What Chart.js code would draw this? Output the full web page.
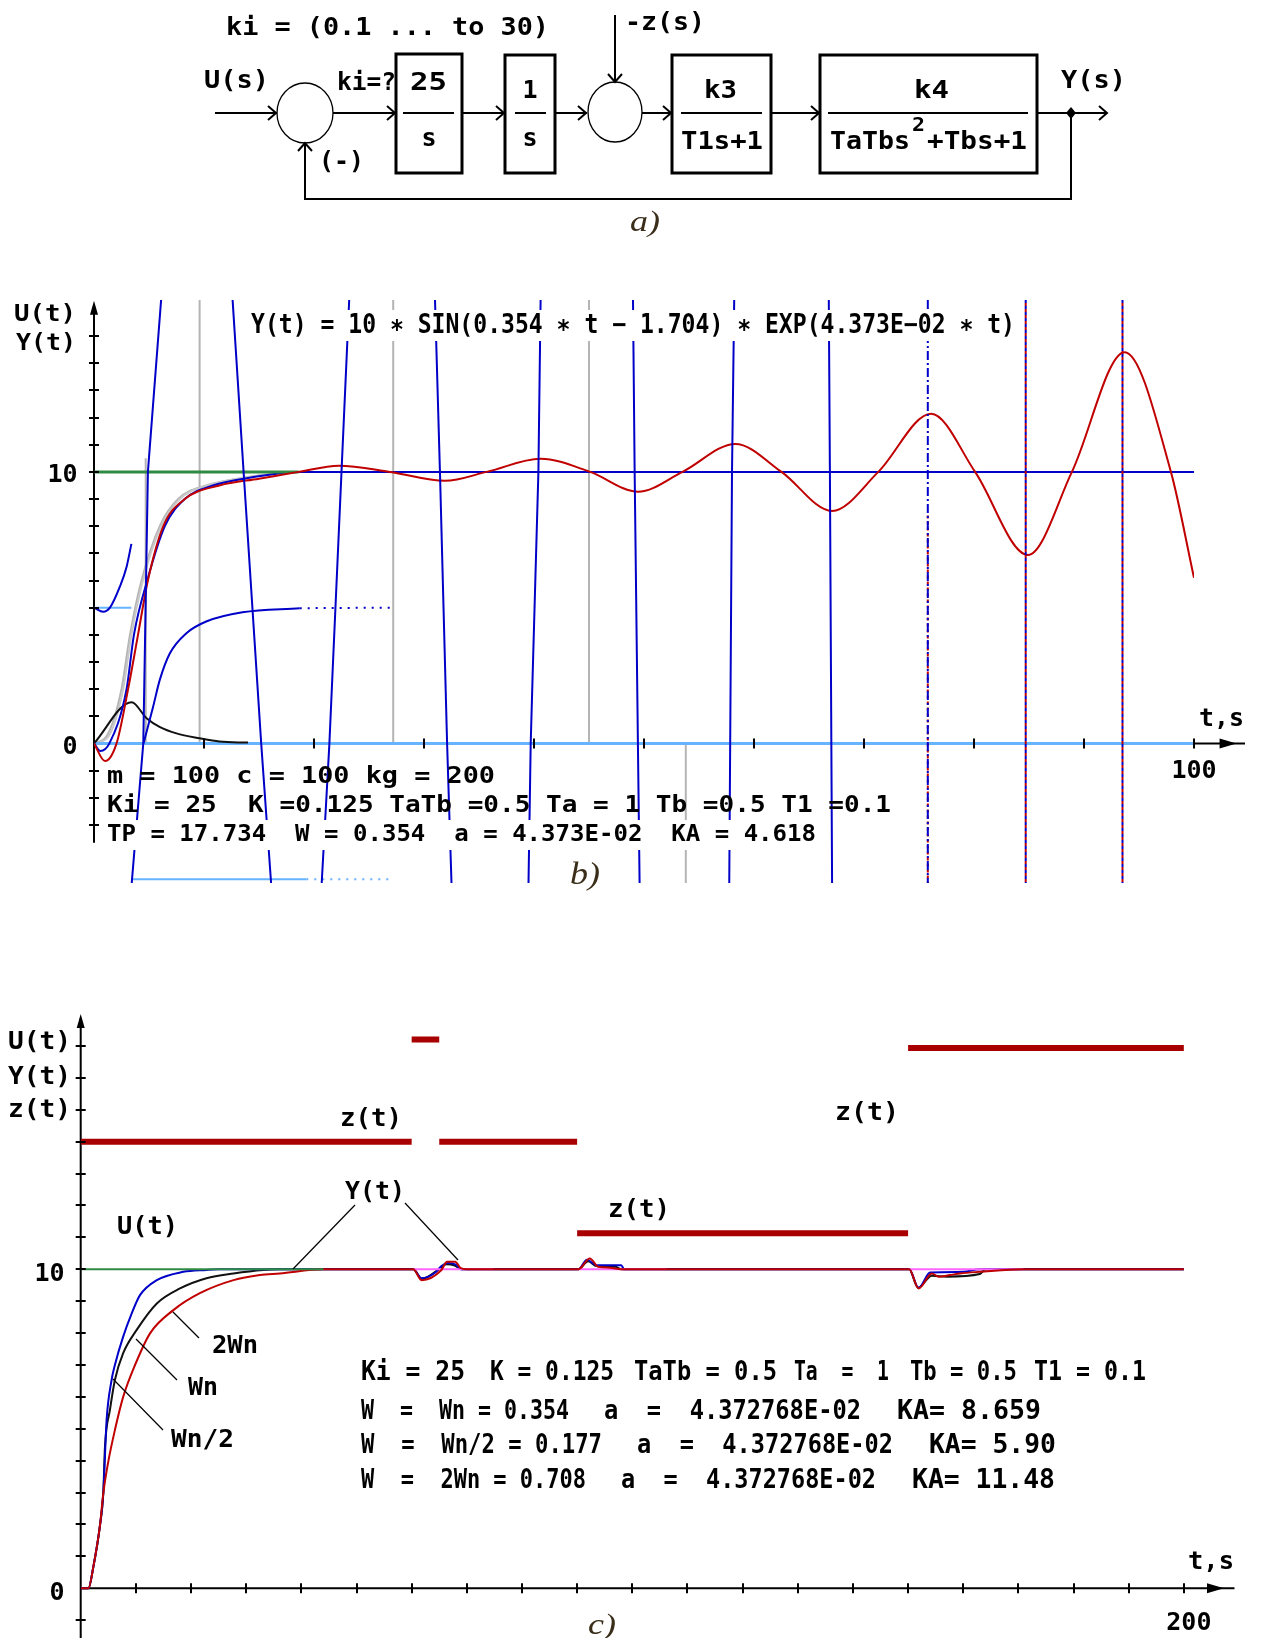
<!DOCTYPE html>
<html>
<head>
<meta charset="utf-8">
<script src="https://cdn.jsdelivr.net/npm/chart.js@4.4.1/dist/chart.umd.min.js"></script>
<style>
html, body { margin: 0; padding: 0; background: #fff; }
#page { position: relative; width: 1261px; height: 1638px; overflow: hidden; background: #fff; }
#page canvas { position: absolute; left: 0; }
#overlay { position: absolute; left: 0; top: 0; }
</style>
</head>
<body>
<div id="page">
  <canvas id="chartB" width="1261" height="640" style="top:260px"></canvas>
  <canvas id="chartC" width="1261" height="658" style="top:980px"></canvas>
  <svg id="overlay" width="1261" height="1638" xmlns="http://www.w3.org/2000/svg">
    <!-- block diagram a) -->
    <g stroke="#000" fill="none" stroke-width="2">
      <path d="M215 113 H277"/>
      <path d="M333 113 H396"/>
      <path d="M462 113 H505"/>
      <path d="M555 113 H587"/>
      <path d="M642 113 H672"/>
      <path d="M771 113 H820"/>
      <path d="M1037 113 H1107"/>
      <path d="M1071 113 V199 H305 V143"/>
      <path d="M615 15 V82"/>
      <path d="M268 106 L276 113 L268 120"/>
      <path d="M387 106 L395 113 L387 120"/>
      <path d="M496 106 L504 113 L496 120"/>
      <path d="M578 106 L586 113 L578 120"/>
      <path d="M663 106 L671 113 L663 120"/>
      <path d="M811 106 L819 113 L811 120"/>
      <path d="M1099 106 L1107 113 L1099 120"/>
      <path d="M298 151 L305 143 L312 151"/>
      <path d="M608 74 L615 82 L622 74"/>
      <path d="M403 113 H454"/>
      <path d="M515 113 H546"/>
      <path d="M681 113 H762"/>
      <path d="M828 113 H1028"/>
      <ellipse cx="305" cy="113" rx="28" ry="30" stroke-width="1.3"/>
      <ellipse cx="615" cy="112" rx="27" ry="30" stroke-width="1.3"/>
      <rect x="396" y="54" width="66" height="119" stroke-width="3"/>
      <rect x="505" y="55" width="50" height="118" stroke-width="3"/>
      <rect x="672" y="55" width="99" height="118" stroke-width="3"/>
      <rect x="820" y="55" width="217" height="118" stroke-width="3"/>
    </g>
    <path d="M1071 107 L1076 113 L1071 119 L1066 113 Z" fill="#000"/>
  </svg>
</div>
<script>
// ---------- chart b) : step response with Ki = 25 ----------
const bRedT = [0, 1.0, 2.05, 3.1, 4.0, 4.9, 6.3, 8.25, 11.4, 15, 18.6, 22.25, 26.9, 31.9, 35.7, 40.6, 45.1, 49.45, 53.5, 58.3, 62.5, 67.1, 71.3, 76.1, 80.1, 84.9, 88.9, 93.7, 97.9, 100];
const bRedY = [0, -0.65, 0, 2, 4, 6, 8, 9, 9.5, 9.75, 10, 10.23, 10, 9.67, 10, 10.48, 10, 9.27, 10, 11.03, 10, 8.56, 10, 12.14, 10, 6.94, 10, 14.41, 10, 6.1];

const bBlueT = [0, 0.58, 1.4, 2.96, 3.63, 4.84, 6.44, 8.25, 10.8, 14.4, 18.6, 100];
const bBlueY = [0, -0.28, 0, 2, 4, 6, 8, 9, 9.5, 9.8, 10, 10];

const bGrayT = [0, 1.2, 2.5, 3.27, 4.32, 5.98, 7.65, 10.2, 13.8, 18.1];
const bGrayY = [0, 0.3, 2, 4, 6, 8, 9, 9.5, 9.8, 10];
const bGray2T = [0, 1.3, 2.65, 3.4, 4.45, 6.1, 7.8, 10.3, 13.9, 18.2];
const bGray2Y = [0, 0.25, 2, 4, 6, 8, 9, 9.5, 9.8, 10];

const bGreenT = [0, 18.6];
const bGreenY = [10, 10];

const bBlackT = [0, 3.42, 4.78, 6.0, 7.5, 9.6, 11.4, 14];
const bBlackY = [0, 1.52, 0.93, 0.6, 0.37, 0.19, 0.07, 0.03];

const bHalfT = [4.5, 5.38, 5.98, 6.9, 8.4, 10.2, 13.5, 18.7];
const bHalfY = [0, 1.36, 2.34, 3.32, 4.06, 4.49, 4.83, 4.98];
const bHalfDotT = [18.7, 27.2];
const bHalfDotY = [4.98, 5];

const bStartT = [0, 0.85, 1.45, 2.36, 2.96, 3.4];
const bStartY = [5, 4.85, 5, 5.78, 6.5, 7.35];

const bLevelT = [0, 3.4];
const bLevelY = [5, 5];
const bLowT = [3.4, 19.3];
const bLowY = [-5, -5];
const bLowDotT = [19.3, 27.2];
const bLowDotY = [-5, -5];
const bZeroT = [0, 100];
const bZeroY = [0, 0];

// gray vertical marks
const bGridT = [4.7, 9.6, 27.2, 45.0, 53.8];
const bGridTop = [10.5, 16.33, 16.33, 16.33, 0];
const bGridBottom = [0, 0, 0, 0, -5.14];

// the large growing oscillation (runs far off the plot, clipped)
const bOscT = [3.43, 4.48, 4.9, 6.1, 9.3, 12.6, 13.6, 15.2, 16.1, 18.4, 20.7, 21.4, 22.5, 23.2, 27.1, 31.0, 31.45, 32.1, 32.5, 36, 39.5, 39.7, 40.4, 40.6, 44.8, 49.0, 49.15, 49.6, 53.6, 57.75, 58.0, 58.2, 62.5, 66.8, 66.9, 67.1, 71.4];
const bOscY = [-5.14, 0, 10, 16.33, 45, 16.33, 10, 0, -5.14, -45, -5.14, 0, 10, 16.33, 60, 16.33, 10, 0, -5.14, -60, -5.14, 0, 10, 16.33, 80, 16.33, 10, -5.14, -80, -5.14, 10, 16.33, 100, 16.33, 10, -5.14, -100];
const bOscVertT = [75.8, 84.7, 93.5];
const bOscRedTop = [8.5, 16.33, 16.33];

const bYTicks = [-3, -2, -1, 1, 2, 3, 4, 5, 6, 7, 8, 9, 10, 11, 12, 13, 14, 15];
const bXTicks = [10, 20, 30, 40, 50, 60, 70, 80, 90, 100];
const bYLabelVals = [0, 10];
const bYLabels = ['0', '10'];
const bXLabelVals = [100];
const bXLabels = ['100'];

// ---------- chart c) : three W values and disturbance z(t) ----------
const cRedT = [0, 1.4, 2.3, 3.5, 4.1, 5.0, 6.2, 7.7, 9.85, 12.6, 16.8, 21.6, 27.7, 32.5, 36.1, 44, 60.3, 61.8, 65.4, 66.4, 67.9, 68.8, 70, 90.2, 92.3, 93.8, 96, 98, 150.2, 151.9, 154.3, 155.5, 157.6, 159.4, 163, 170.9, 200];
const cRedY = [0, 0, 0.68, 1.98, 2.98, 3.97, 4.96, 6.0, 7.0, 8.0, 8.72, 9.25, 9.66, 9.82, 9.87, 10, 10, 9.66, 9.98, 10.24, 10.24, 10.05, 10, 10, 10.34, 10.08, 10.05, 10, 10, 9.40, 9.87, 9.77, 9.82, 9.87, 9.92, 10, 10];

const cBlackT = [0, 1.4, 2.3, 3.5, 4.1, 4.4, 5.3, 6.2, 7.7, 10.15, 13.8, 18, 22.8, 27.7, 33.1, 36, 60.3, 61.8, 64.8, 66.3, 67.8, 69, 90.2, 92, 93.5, 97, 98, 150.2, 151.8, 154.3, 157, 163, 164, 200];
const cBlackY = [0, 0, 0.68, 1.98, 3.0, 4.44, 5.59, 6.53, 7.37, 8.1, 8.93, 9.4, 9.72, 9.87, 9.98, 10, 10, 9.7, 9.98, 10.16, 10.12, 10, 10, 10.25, 10.1, 10.08, 10, 10, 9.42, 9.8, 9.77, 9.85, 10, 10];

const cBlueT = [0, 1.4, 2.3, 3.5, 4.1, 4.7, 5.6, 6.2, 7.7, 9.25, 10.75, 13.8, 18.6, 22.8, 25, 60.3, 61.8, 64.3, 65.4, 66.5, 68, 69, 90.2, 91.8, 93.5, 98, 98.5, 150.2, 151.9, 154, 160, 163, 200];
const cBlueY = [0, 0, 0.68, 1.98, 3.0, 5.28, 6.53, 7.0, 7.89, 8.62, 9.19, 9.66, 9.92, 9.98, 10, 10, 9.72, 9.9, 10.1, 10.2, 10.15, 10, 10, 10.3, 10.13, 10.13, 10, 10, 9.42, 9.9, 9.92, 10, 10];

const cGreenT = [0, 44];
const cGreenY = [10, 10];

const cPinkFrom = [60.3, 90.2, 150.2];
const cPinkTo = [74.8, 106.2, 170.9];
const cPinkLevel = 10;

const zStepT = [0, 60, 65, 90, 150, 200];
const zStepY = [14, 17.2, 14, 11.13, 16.94];

const cYTicks = [-1, 1, 2, 3, 4, 5, 6, 7, 8, 9, 10, 11, 12, 13, 14, 15, 16, 17];
const cXTicks = [10, 20, 30, 40, 50, 60, 70, 80, 90, 100, 110, 120, 130, 140, 150, 160, 170, 180, 190, 200];
const cYLabelVals = [0, 10];
const cYLabels = ['0', '10'];
const cXLabelVals = [200];
const cXLabels = ['200'];

// ---------- styles ----------
const COL = {
  red: '#c00000', blue: '#0000c8', lightBlue: '#66b3ff', gray: '#b4b4b4',
  green: '#2f8a44', black: '#111111', pink: '#ff66ff', zRed: '#a80000'
};
const MONO = '"DejaVu Sans Mono"';

function pts(t, y) { return t.map((v, i) => ({ x: v, y: y[i] })); }
function vlines(ts, top, bottom) {
  const out = [];
  ts.forEach((t, i) => { out.push({ x: t, y: top[i] }, { x: t, y: bottom[i] }, { x: t, y: null }); });
  return out;
}
function hsegs(from, to, level) {
  const out = [];
  from.forEach((f, i) => { out.push({ x: f, y: level }, { x: to[i], y: level }, { x: to[i], y: null }); });
  return out;
}
function steps(ts, ys) {
  const out = [];
  ys.forEach((y, i) => { out.push({ x: ts[i], y: y }, { x: ts[i + 1], y: y }, { x: ts[i + 1], y: null }); });
  return out;
}
function line(data, color, width, extra) {
  return Object.assign({
    data: data, borderColor: color, borderWidth: width, fill: false,
    pointRadius: 0, tension: 0, clip: 0, spanGaps: false, borderCapStyle: 'butt'
  }, extra || {});
}
const smooth = { cubicInterpolationMode: 'monotone' };

const axesCfg = {
  chartB: {
    yFrom: -3.66, yTo: 16.3, xTip: 103.87, xTo: 104.64, tick: 5,
    yTicks: bYTicks, xTicks: bXTicks,
    yLabelVals: bYLabelVals, yLabels: bYLabels, yLabelGap: 16.4, yLabelDy: 1.5,
    xLabelVals: bXLabelVals, xLabels: bXLabels, xLabelDx: 0, xLabelDy: 35
  },
  chartC: {
    yFrom: -1.6, yTo: 18.0, xTip: 207.27, xTo: 209.17, tick: 5,
    yTicks: cYTicks, xTicks: cXTicks,
    yLabelVals: cYLabelVals, yLabels: cYLabels, yLabelGap: 16.2, yLabelDy: 2.5,
    xLabelVals: cXLabelVals, xLabels: cXLabels, xLabelDx: 5, xLabelDy: 42
  }
};

const axesPlugin = {
  id: 'axesDraw',
  beforeDatasetsDraw(chart) {
    const o = axesCfg[chart.canvas.id];
    const ctx = chart.ctx, sx = chart.scales.x, sy = chart.scales.y;
    const x0 = sx.getPixelForValue(0), y0 = sy.getPixelForValue(0);
    ctx.save();
    ctx.strokeStyle = '#000';
    ctx.lineWidth = 2;
    ctx.beginPath();
    ctx.moveTo(x0, sy.getPixelForValue(o.yFrom));
    ctx.lineTo(x0, sy.getPixelForValue(o.yTo) + 4);
    ctx.moveTo(x0, y0);
    ctx.lineTo(sx.getPixelForValue(o.xTo), y0);
    ctx.stroke();
    ctx.restore();
  },
  afterDatasetsDraw(chart) {
    const o = axesCfg[chart.canvas.id];
    const ctx = chart.ctx, sx = chart.scales.x, sy = chart.scales.y;
    const x0 = sx.getPixelForValue(0), y0 = sy.getPixelForValue(0);
    ctx.save();
    ctx.strokeStyle = '#000';
    ctx.fillStyle = '#000';
    ctx.lineWidth = 2;
    ctx.beginPath();
    o.yTicks.forEach(v => {
      const p = Math.round(sy.getPixelForValue(v));
      ctx.moveTo(x0 - o.tick, p); ctx.lineTo(x0 + o.tick, p);
    });
    o.xTicks.forEach(v => {
      const p = Math.round(sx.getPixelForValue(v));
      ctx.moveTo(p, y0 - o.tick); ctx.lineTo(p, y0 + o.tick);
    });
    ctx.stroke();

    const yt = sy.getPixelForValue(o.yTo);
    ctx.beginPath();
    ctx.moveTo(x0, yt); ctx.lineTo(x0 - 4, yt + 14); ctx.lineTo(x0 + 4, yt + 14);
    ctx.closePath(); ctx.fill();
    const xt = sx.getPixelForValue(o.xTip);
    ctx.beginPath();
    ctx.moveTo(xt, y0); ctx.lineTo(xt - 17, y0 - 5); ctx.lineTo(xt - 17, y0 + 5);
    ctx.closePath(); ctx.fill();

    ctx.font = 'bold 25px ' + MONO;
    ctx.textBaseline = 'alphabetic';
    ctx.textAlign = 'right';
    o.yLabelVals.forEach((v, i) => {
      ctx.fillText(o.yLabels[i], x0 - o.yLabelGap, sy.getPixelForValue(v) + o.yLabelDy + 9);
    });
    ctx.textAlign = 'center';
    o.xLabelVals.forEach((v, i) => {
      ctx.fillText(o.xLabels[i], sx.getPixelForValue(v) + o.xLabelDx, y0 + o.xLabelDy);
    });
    ctx.restore();
  }
};

function withOrder(list) {
  list.forEach((d, i) => { d.order = list.length - i; });
  return list;
}

function makeChart(id, datasets, xr, yr, pad) {
  return new Chart(document.getElementById(id), {
    type: 'line',
    data: { datasets: withOrder(datasets) },
    options: {
      responsive: false,
      animation: false,
      devicePixelRatio: 1,
      events: [],
      layout: { padding: pad },
      scales: {
        x: { type: 'linear', min: xr[0], max: xr[1], display: false },
        y: { type: 'linear', min: yr[0], max: yr[1], display: false }
      },
      plugins: { legend: { display: false }, tooltip: { enabled: false } },
      elements: { point: { radius: 0 } }
    },
    plugins: [axesPlugin]
  });
}

// ----- chart b datasets (listed bottom to top) -----
const bOscVertSets = bOscVertT.map((t, i) => line(
  vlines([t], [16.33], [-5.14]), COL.blue, 2,
  { borderDash: i === 0 ? [9, 3, 2, 3] : [3, 3] }
));
const bOscRedSets = bOscVertT.map((t, i) => line(
  vlines([t], [bOscRedTop[i]], [-5.14]), COL.red, 2,
  { borderDash: [3, 3], borderDashOffset: 3 }
));

const bSets = [
  line(vlines(bGridT, bGridTop, bGridBottom), COL.gray, 2),
  line(pts(bGrayT, bGrayY), COL.gray, 2, smooth),
  line(pts(bGray2T, bGray2Y), '#c8c8c8', 2, smooth),
  line(pts(bLevelT, bLevelY), COL.lightBlue, 2),
  line(pts(bLowT, bLowY), COL.lightBlue, 2),
  line(pts(bLowDotT, bLowDotY), COL.lightBlue, 2, { borderDash: [2, 6] }),
  line(pts(bZeroT, bZeroY), COL.lightBlue, 3),
  line(pts(bBlackT, bBlackY), COL.black, 2, smooth),
  line(pts(bHalfT, bHalfY), COL.blue, 2, smooth),
  line(pts(bHalfDotT, bHalfDotY), COL.blue, 2, { borderDash: [2, 6] }),
  line(pts(bStartT, bStartY), COL.blue, 2, smooth),
  line(pts(bBlueT, bBlueY), COL.blue, 2, smooth),
  line(pts(bGreenT, bGreenY), COL.green, 3),
  line(pts(bRedT, bRedY), COL.red, 2, smooth)
].concat(bOscRedSets, [line(pts(bOscT, bOscY), COL.blue, 2)], bOscVertSets);

makeChart('chartB', bSets, [0, 100], [-5.14, 16.33], { left: 94, right: 67, top: 40, bottom: 17 });

// ----- chart c datasets -----
const cSets = [
  line(pts(cBlackT, cBlackY), COL.black, 2, smooth),
  line(pts(cBlueT, cBlueY), COL.blue, 2, smooth),
  line(hsegs(cPinkFrom, cPinkTo, cPinkLevel), COL.pink, 2),
  line(pts(cRedT, cRedY), COL.red, 2, smooth),
  line(pts(cGreenT, cGreenY), COL.green, 2),
  line(steps(zStepT, zStepY), COL.zRed, 6)
];

makeChart('chartC', cSets, [0, 200], [-1.558, 18.191], { left: 80.7, right: 77.1, top: 28, bottom: 0 });

// ---------- texts (SVG overlay) ----------
const svg = document.getElementById('overlay');
const NS = 'http://www.w3.org/2000/svg';

function addRect(x, y, w, h) {
  const r = document.createElementNS(NS, 'rect');
  r.setAttribute('x', x); r.setAttribute('y', y);
  r.setAttribute('width', w); r.setAttribute('height', h);
  r.setAttribute('fill', '#fff');
  svg.appendChild(r);
}
function addLine(x1, y1, x2, y2) {
  const l = document.createElementNS(NS, 'line');
  l.setAttribute('x1', x1); l.setAttribute('y1', y1);
  l.setAttribute('x2', x2); l.setAttribute('y2', y2);
  l.setAttribute('stroke', '#000'); l.setAttribute('stroke-width', '1.2');
  svg.appendChild(l);
}
function addText(t, x1, x2, base, size, kind) {
  const el = document.createElementNS(NS, 'text');
  el.textContent = t;
  el.setAttribute('y', base);
  el.setAttribute('font-size', size);
  if (kind === 'it') {
    el.setAttribute('font-family', 'Liberation Serif');
    el.setAttribute('font-style', 'italic');
    el.setAttribute('fill', '#3a2e1a');
  } else {
    el.setAttribute('font-family', 'DejaVu Sans Mono');
    el.setAttribute('font-weight', 'bold');
    el.setAttribute('fill', '#000');
  }
  el.style.whiteSpace = 'pre';
  el.setAttribute('x', x1);
  if (x2 == null) {
    el.setAttribute('text-anchor', 'middle');
  } else {
    el.setAttribute('textLength', x2 - x1);
    el.setAttribute('lengthAdjust', 'spacingAndGlyphs');
  }
  svg.appendChild(el);
}

// a) diagram labels
addText('ki = (0.1 ... to 30)', 226, 549, 35, 25);
addText('-z(s)', 625, 705, 30, 25);
addText('U(s)', 204, 269, 88, 25);
addText('ki=?', 337, 396, 90, 25);
addText('25', 410, 447, 90, 25);
addText('s', 429, null, 146, 25);
addText('1', 530, null, 98, 25);
addText('s', 530, null, 146, 25);
addText('k3', 704, 737, 98, 25);
addText('T1s+1', 681, 763, 149, 25);
addText('k4', 914, 949, 98, 25);
addText('TaTbs', 830, 910, 149, 25);
addText('2', 912, 925, 131, 20);
addText('+Tbs+1', 927, 1027, 149, 25);
addText('Y(s)', 1061, 1126, 88, 25);
addText('(-)', 319, 364, 169, 25);
addText('a)', 630, 660, 231, 30, 'it');

// b) labels
addRect(251, 310, 764, 31);
addText('Y(t) = 10 \u2217 SIN(0.354 \u2217 t \u2212 1.704) \u2217 EXP(4.373E\u221202 \u2217 t)', 251, 1015, 333, 26);
addText('U(t)', 14, 76, 321, 23);
addText('Y(t)', 16, 76, 350, 23);
addText('m = 100 c = 100 kg = 200', 107, 495, 783, 23);
addText('Ki = 25  K =0.125 TaTb =0.5 Ta = 1 Tb =0.5 T1 =0.1', 107, 891, 812, 23);
addRect(105, 820, 713, 30);
addText('TP = 17.734  W = 0.354  a = 4.373E-02  KA = 4.618', 107, 816, 841, 23);
addText('t,s', 1199, 1244, 726, 25);
addText('b)', 570, 600, 884, 32, 'it');

// c) labels
addText('U(t)', 8, 71, 1049, 25);
addText('Y(t)', 8, 71, 1084, 25);
addText('z(t)', 8, 71, 1117, 25);
addText('z(t)', 340, 402, 1126, 25);
addText('z(t)', 835, 899, 1120, 25);
addText('z(t)', 608, 670, 1217, 25);
addText('Y(t)', 345, 405, 1199, 25);
addText('U(t)', 117, 178, 1234, 25);
addText('2Wn', 212, 258, 1353, 25);
addText('Wn', 188, 218, 1395, 25);
addText('Wn/2', 171, 234, 1447, 25);
addLine(355, 1205, 293, 1269);
addLine(405, 1203, 458, 1260);
addLine(173, 1312, 199, 1338);
addLine(136, 1339, 177, 1380);
addLine(113, 1379, 163, 1430);

addText('Ki = 25', 361, 465, 1380, 27);
addText('K = 0.125', 490, 614, 1380, 27);
addText('TaTb = 0.5', 634, 777, 1380, 27);
addText('Ta  =  1', 794, 889, 1380, 27);
addText('Tb = 0.5', 910, 1017, 1380, 27);
addText('T1 = 0.1', 1034, 1146, 1380, 27);

addText('W  =  Wn = 0.354', 361, 569, 1419, 27);
addText('a  =  4.372768E-02', 604, 861, 1419, 27);
addText('KA= 8.659', 897, 1041, 1419, 27);

addText('W  =  Wn/2 = 0.177', 361, 602, 1453, 27);
addText('a  =  4.372768E-02', 637, 893, 1453, 27);
addText('KA= 5.90', 929, 1056, 1453, 27);

addText('W  =  2Wn = 0.708', 361, 586, 1488, 27);
addText('a  =  4.372768E-02', 621, 876, 1488, 27);
addText('KA= 11.48', 912, 1055, 1488, 27);

addText('t,s', 1188, 1234, 1569, 25);
addText('c)', 588, 616, 1634, 30, 'it');
</script>
</body>
</html>
